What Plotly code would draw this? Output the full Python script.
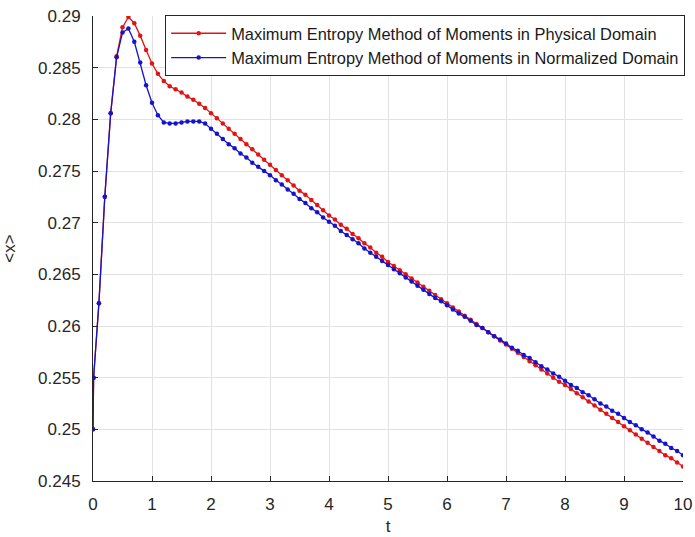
import plotly.graph_objects as go

# time grid (0, 0.01, then 0.1 ... 10.0)
t = [0.0, 0.01] + [round(0.1 * i, 1) for i in range(1, 101)]

physical = [
    0.2500, 0.2550, 0.2622, 0.2725, 0.2806, 0.2861, 0.2889, 0.2899, 0.2893, 0.2881, 0.2867,
    0.2854, 0.2844, 0.2837, 0.2832, 0.2829, 0.2826, 0.2822, 0.2819, 0.2815, 0.2811,
    0.2806, 0.2801, 0.2796, 0.2791, 0.2786, 0.2781, 0.2776, 0.2771, 0.2766, 0.2761,
    0.2756, 0.2751, 0.2746, 0.2741, 0.2736, 0.2731, 0.2727, 0.2722, 0.2717, 0.2712,
    0.2707, 0.2703, 0.2698, 0.2694, 0.2689, 0.2685, 0.2680, 0.2676, 0.2671, 0.2667,
    0.2662, 0.2658, 0.2654, 0.2650, 0.2646, 0.2642, 0.2638, 0.2634, 0.2630, 0.2626,
    0.2622, 0.2618, 0.2614, 0.2610, 0.2606, 0.2602, 0.2598, 0.2594, 0.2590, 0.2586,
    0.2582, 0.2578, 0.2574, 0.2570, 0.2566, 0.2562, 0.2558, 0.2554, 0.2550, 0.2546,
    0.2543, 0.2539, 0.2535, 0.2531, 0.2527, 0.2523, 0.2519, 0.2515, 0.2511, 0.2507,
    0.2503, 0.2499, 0.2495, 0.2491, 0.2487, 0.2483, 0.2479, 0.2475, 0.2472, 0.2468,
    0.2464,
]

normalized = [
    0.2500, 0.2550, 0.2622, 0.2725, 0.2806, 0.2860, 0.2884, 0.2888, 0.2875, 0.2855, 0.2833,
    0.2816, 0.2804, 0.2797, 0.2796, 0.2796, 0.2797, 0.2798, 0.2798, 0.2798, 0.2796,
    0.2791, 0.2786, 0.2781, 0.2776, 0.2772, 0.2767, 0.2763, 0.2758, 0.2754, 0.2750,
    0.2746, 0.2741, 0.2737, 0.2732, 0.2728, 0.2723, 0.2719, 0.2714, 0.2710, 0.2705,
    0.2701, 0.2697, 0.2692, 0.2688, 0.2684, 0.2680, 0.2675, 0.2671, 0.2667, 0.2663,
    0.2659, 0.2655, 0.2651, 0.2647, 0.2643, 0.2639, 0.2635, 0.2631, 0.2627, 0.2624,
    0.2620, 0.2616, 0.2612, 0.2609, 0.2605, 0.2601, 0.2598, 0.2594, 0.2590, 0.2587,
    0.2583, 0.2579, 0.2576, 0.2572, 0.2569, 0.2565, 0.2561, 0.2558, 0.2554, 0.2551,
    0.2547, 0.2543, 0.2540, 0.2536, 0.2533, 0.2529, 0.2525, 0.2522, 0.2518, 0.2515,
    0.2511, 0.2507, 0.2504, 0.2500, 0.2497, 0.2493, 0.2489, 0.2486, 0.2482, 0.2479,
    0.2475,
]

series_names = [
    "Maximum Entropy Method of Moments in Physical Domain",
    "Maximum Entropy Method of Moments in Normalized Domain",
]

x_tickvals = [0, 1, 2, 3, 4, 5, 6, 7, 8, 9, 10]
x_ticktext = ["0", "1", "2", "3", "4", "5", "6", "7", "8", "9", "10"]
y_tickvals = [0.245, 0.25, 0.255, 0.26, 0.265, 0.27, 0.275, 0.28, 0.285, 0.29]
y_ticktext = ["0.245", "0.25", "0.255", "0.26", "0.265", "0.27", "0.275", "0.28", "0.285", "0.29"]

FONT = "Liberation Sans, Arial, sans-serif"
AXC = "#262626"
GRID = "#e2e2e2"

fig = go.Figure()
fig.add_trace(go.Scatter(
    x=t, y=physical, name=series_names[0], mode="lines+markers",
    line=dict(color="#e01414", width=1.3),
    marker=dict(color="#e01414", size=4.5),
))
fig.add_trace(go.Scatter(
    x=t, y=normalized, name=series_names[1], mode="lines+markers",
    line=dict(color="#1414cc", width=1.3),
    marker=dict(color="#1414cc", size=4.5),
))

fig.update_layout(
    width=695, height=537,
    margin=dict(l=93, r=11, t=16, b=56),
    paper_bgcolor="white", plot_bgcolor="white",
    font=dict(family=FONT, color=AXC, size=17),
    showlegend=True,
    legend=dict(
        x=1.002, y=1.002, xanchor="right", yanchor="top",
        bgcolor="white", bordercolor=AXC, borderwidth=1,
        font=dict(family=FONT, size=16.4, color="#1a1a1a"),
        itemwidth=55, tracegroupgap=0,
    ),
    xaxis=dict(
        range=[0, 10], tickmode="array", tickvals=x_tickvals, ticktext=x_ticktext,
        ticks="inside", ticklen=5, tickwidth=1, tickcolor=AXC,
        showline=True, linecolor=AXC, linewidth=1, mirror=False,
        showgrid=True, gridcolor=GRID, gridwidth=1, zeroline=False,
        ticklabelstandoff=8, automargin=False,
        title=dict(text="t", font=dict(size=17, color=AXC), standoff=6),
        tickfont=dict(size=17, color=AXC),
    ),
    yaxis=dict(
        range=[0.245, 0.29], tickmode="array", tickvals=y_tickvals, ticktext=y_ticktext,
        ticks="inside", ticklen=5, tickwidth=1, tickcolor=AXC,
        showline=True, linecolor=AXC, linewidth=1, mirror=False,
        showgrid=True, gridcolor=GRID, gridwidth=1, zeroline=False,
        ticklabelstandoff=8, automargin=False,
        title=dict(text="&lt;x&gt;", font=dict(size=17, color=AXC), standoff=20),
        tickfont=dict(size=17, color=AXC),
    ),
)

fig.write_html("out.html")
